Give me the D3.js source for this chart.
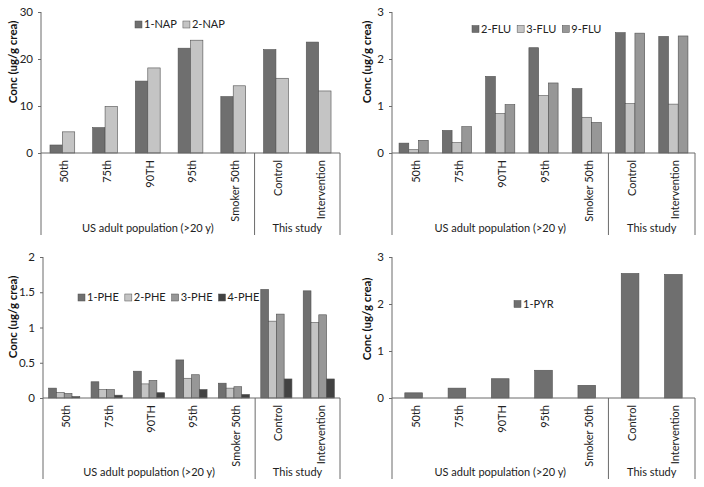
<!DOCTYPE html>
<html><head><meta charset="utf-8">
<script src="https://cdn.jsdelivr.net/npm/d3@7"></script>
<style>html,body{margin:0;padding:0;background:#fff}svg{display:block}</style>
</head><body>
<svg id="c" width="704" height="487"></svg>
<script>
// ---- data ----
const categories = ["50th","75th","90TH","95th","Smoker 50th","Control","Intervention"];
const groups = [{name:"US adult population (>20 y)", n:5},{name:"This study", n:2}];

const napSeries = ["1-NAP","2-NAP"];
const nap1 = [1.7, 5.4, 15.3, 22.3, 12.0, 22.0, 23.6];
const nap2 = [4.5, 9.9, 18.1, 24.0, 14.3, 15.9, 13.2];
const napTicks = [0,10,20,30];

const fluSeries = ["2-FLU","3-FLU","9-FLU"];
const flu2 = [0.21, 0.48, 1.63, 2.24, 1.37, 2.56, 2.48];
const flu3 = [0.07, 0.22, 0.84, 1.22, 0.76, 1.05, 1.04];
const flu9 = [0.27, 0.56, 1.03, 1.49, 0.65, 2.55, 2.49];
const fluTicks = [0,1,2,3];

const pheSeries = ["1-PHE","2-PHE","3-PHE","4-PHE"];
const phe1 = [0.14, 0.23, 0.38, 0.54, 0.21, 1.54, 1.52];
const phe2 = [0.08, 0.12, 0.20, 0.28, 0.14, 1.09, 1.07];
const phe3 = [0.065, 0.12, 0.25, 0.33, 0.16, 1.19, 1.18];
const phe4 = [0.02, 0.04, 0.075, 0.12, 0.05, 0.27, 0.27];
const pheTicks = [0,0.5,1,1.5,2];

const pyrSeries = ["1-PYR"];
const pyr1 = [0.11, 0.21, 0.41, 0.59, 0.27, 2.65, 2.63];
const pyrTicks = [0,1,2,3];

const yTitle = "Conc (ug/g crea)";

// ---- styles / layout ----
const colDark = "#6f6f6f", colLight = "#c4c4c4", colMid = "#979797", colVDark = "#424242";
const FONT = "Lato, 'Open Sans', sans-serif";
const FS = 11;
const panels = [
  {series:napSeries, values:[nap1,nap2], colors:[colDark,colLight], ticks:napTicks,
   x0:41, x1:340, yTop:12, y0:153, bottom:235, titleX:13, titleY:62, legX:135, legY:24.5},
  {series:fluSeries, values:[flu2,flu3,flu9], colors:[colDark,colLight,colMid], ticks:fluTicks,
   x0:392, x1:695, yTop:12, y0:153, bottom:235, titleX:367, titleY:62, legX:472, legY:29},
  {series:pheSeries, values:[phe1,phe2,phe3,phe4], colors:[colDark,colLight,colMid,colVDark], ticks:pheTicks,
   x0:43, x1:340, yTop:257, y0:398, bottom:479, titleX:13, titleY:317, legX:78, legY:297.5},
  {series:pyrSeries, values:[pyr1], colors:[colDark], ticks:pyrTicks,
   x0:392, x1:695, yTop:257, y0:398, bottom:479, titleX:367, titleY:319, legX:514, legY:304}
];
const axisCol = "#6a6a6a";
const svg = d3.select("#c");

panels.forEach(p => {
  const g = svg.append("g");
  const y = d3.scaleLinear().domain([0, d3.max(p.ticks)]).range([p.y0, p.yTop]);
  const x = d3.scaleBand().domain(categories).range([p.x0, p.x1]).paddingInner(0).paddingOuter(0);
  const n = p.series.length;
  const bw = x.bandwidth() / (n + 1.45);
  const xs = d3.scaleBand().domain(d3.range(n)).range([0, bw*n]);

  // y axis
  const ya = d3.axisLeft(y).tickValues(p.ticks).tickSize(3).tickPadding(5)
    .tickFormat(d => String(d));
  const yg = g.append("g").attr("transform", `translate(${p.x0},0)`).call(ya);
  yg.select(".domain").remove();
  yg.selectAll(".tick line").attr("stroke", axisCol);
  yg.selectAll(".tick text").attr("font-family", FONT).attr("font-size", 11.5).attr("fill", "#222");

  // bars
  p.series.forEach((s, si) => {
    g.append("g").selectAll("rect").data(p.values[si]).join("rect")
      .attr("x", (d,i) => x(categories[i]) + (x.bandwidth() - bw*n)/2 + xs(si))
      .attr("width", xs.bandwidth())
      .attr("y", d => y(d))
      .attr("height", d => y(0) - y(d))
      .attr("fill", p.colors[si])
      .attr("stroke", "#505050").attr("stroke-width", 0.6);
  });

  // axis lines
  g.append("line").attr("x1", p.x0).attr("x2", p.x0).attr("y1", p.yTop).attr("y2", p.bottom)
    .attr("stroke", axisCol).attr("stroke-width", 1);
  g.append("line").attr("x1", p.x0).attr("x2", p.x1).attr("y1", y(0)).attr("y2", y(0))
    .attr("stroke", axisCol).attr("stroke-width", 1);
  // group dividers
  let acc = 0;
  const bounds = [];
  groups.forEach(gr => {
    const start = x(categories[acc]);
    acc += gr.n;
    const end = acc < categories.length ? x(categories[acc]) : p.x1;
    bounds.push(end);
    g.append("text").attr("x", (start+end)/2).attr("y", p.bottom - 3)
      .attr("text-anchor", "middle").attr("font-family", FONT).attr("font-size", FS)
      .attr("fill", "#222").text(gr.name);
  });
  bounds.forEach(b => {
    g.append("line").attr("x1", b).attr("x2", b).attr("y1", y(0)).attr("y2", p.bottom)
      .attr("stroke", axisCol).attr("stroke-width", 1);
  });

  // category labels (rotated)
  g.append("g").selectAll("text").data(categories).join("text")
    .attr("transform", d => `translate(${x(d) + x.bandwidth()/2 + 2},${y(0) + 7}) rotate(-90)`)
    .attr("text-anchor", "end").attr("dy", "0.35em")
    .attr("font-family", FONT).attr("font-size", FS).attr("fill", "#222")
    .text(d => d);

  // y title
  g.append("text").attr("transform", `translate(${p.titleX},${p.titleY}) rotate(-90)`)
    .attr("text-anchor", "middle").attr("dy", "0.35em")
    .attr("font-family", FONT).attr("font-size", 11.5).attr("font-weight", "bold")
    .attr("fill", "#111").text(yTitle);

  // legend
  let lx = p.legX;
  p.series.forEach((s, si) => {
    g.append("rect").attr("x", lx).attr("y", p.legY - 3.5).attr("width", 7).attr("height", 7)
      .attr("fill", p.colors[si]).attr("stroke", "#505050").attr("stroke-width", 0.5);
    const t = g.append("text").attr("x", lx + 9).attr("y", p.legY).attr("dy", "0.35em")
      .attr("font-family", FONT).attr("font-size", FS).attr("fill", "#222").text(s);
    lx += 9 + t.node().getComputedTextLength() + 6;
  });
});
</script>
</body></html>
